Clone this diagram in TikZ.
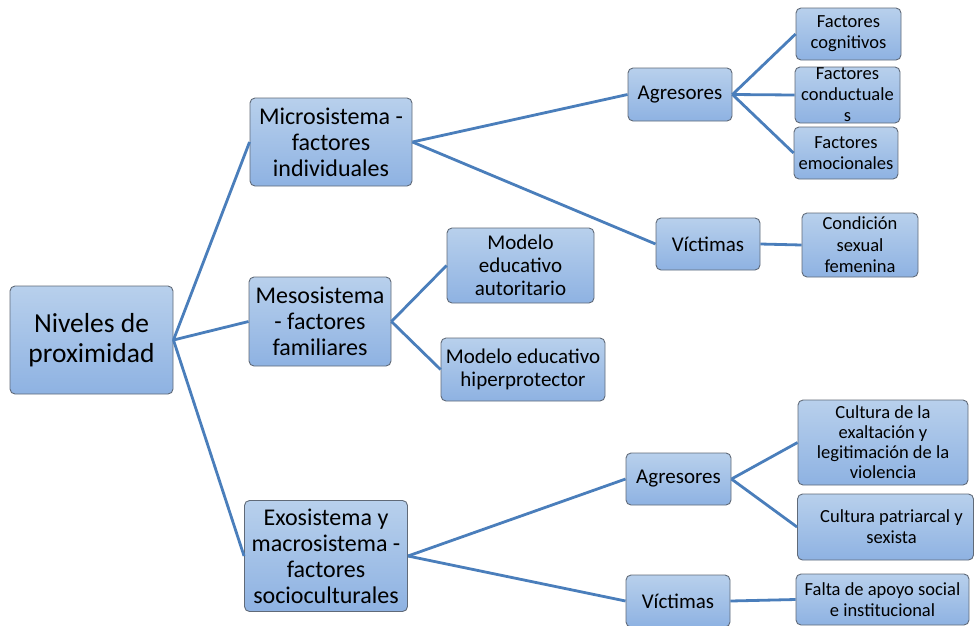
\documentclass[tikz,border=0pt]{standalone}
\usepackage{fontspec}
\setmainfont{Carlito}
\definecolor{boxtop}{RGB}{184,208,236}
\definecolor{boxbot}{RGB}{142,178,226}
\definecolor{boxline}{RGB}{96,106,120}
\definecolor{linkblue}{RGB}{74,126,187}
\begin{document}
\begin{tikzpicture}[x=1pt,y=-1pt,
  box/.style={draw=boxline, line width=0.9pt, rounded corners=5pt,
    top color=boxtop, bottom color=boxbot, align=center, inner sep=1pt},
  link/.style={draw=linkblue, line width=2.8pt},
  huge/.style={font=\fontsize{27.5}{30}\selectfont},
  big/.style={font=\fontsize{24}{26}\selectfont},
  mid/.style={font=\fontsize{21}{23}\selectfont},
  small/.style={font=\fontsize{18.5}{21}\selectfont}]

\useasboundingbox (0,0) rectangle (974,625);

% level 0 and 1
\node[box,huge,minimum width=163,minimum height=108] (root) at (91.5,340) {Niveles de\\proximidad};
\node[box,big,minimum width=162,minimum height=88] (micro) at (331,142) {Microsistema -\\factores\\individuales};
\node[box,big,minimum width=142,minimum height=89] (meso) at (320,321.5) {Mesosistema\\- factores\\familiares};
\node[box,big,minimum width=163,minimum height=111] (exo) at (326,556) {Exosistema y\\macrosistema -\\factores\\socioculturales};

% microsistema
\node[box,mid,minimum width=104,minimum height=53] (agrmicro) at (680,94.5) {Agresores};
\node[box,mid,minimum width=104,minimum height=52] (vicmicro) at (708,244) {Víctimas};
\node[box,small,minimum width=105,minimum height=52] (cog) at (848.5,34) {Factores\\cognitivos};
\node[box,small,minimum width=105,minimum height=52] (cond) at (847.5,95) {Factores\\conductuale\\s};
\node[box,small,minimum width=104,minimum height=52] (emo) at (846,153) {Factores\\emocionales};
\node[box,small,font=\fontsize{18.5}{21.5}\selectfont,minimum width=116,minimum height=64] (sexo) at (860,245) {Condición\\sexual\\femenina};

% mesosistema
\node[box,mid,minimum width=147,minimum height=75] (autor) at (520.5,265.5) {Modelo\\educativo\\autoritario};
\node[box,mid,minimum width=164,minimum height=63] (hiper) at (523,369.5) {Modelo educativo\\hiperprotector};

% exosistema y macrosistema
\node[box,mid,minimum width=105,minimum height=52] (agrexo) at (678.5,479) {Agresores};
\node[box,mid,minimum width=104,minimum height=52] (vicexo) at (678,601) {Víctimas};
\node[box,small,font=\fontsize{18.5}{20}\selectfont,minimum width=170,minimum height=85] (exalt) at (883,442.5) {Cultura de la\\exaltación y\\legitimación de la\\violencia};
\node[box,small,minimum width=176,minimum height=66] (patri) at (885.5,527) {\hspace*{12pt}Cultura patriarcal y\\\hspace*{12pt}sexista};
\node[box,small,minimum width=173,minimum height=51] (apoyo) at (882.5,599.5) {Falta de apoyo social\\e institucional};

\draw[link] (root.east) -- (micro.west);
\draw[link] (root.east) -- (meso.west);
\draw[link] (root.east) -- (exo.west);
\draw[link] (micro.east) -- (agrmicro.west);
\draw[link] (micro.east) -- (vicmicro.west);
\draw[link] (agrmicro.east) -- (cog.west);
\draw[link] (agrmicro.east) -- (cond.west);
\draw[link] (agrmicro.east) -- (emo.west);
\draw[link] (vicmicro.east) -- (sexo.west);
\draw[link] (meso.east) -- (autor.west);
\draw[link] (meso.east) -- (hiper.west);
\draw[link] (exo.east) -- (agrexo.west);
\draw[link] (exo.east) -- (vicexo.west);
\draw[link] (agrexo.east) -- (exalt.west);
\draw[link] (agrexo.east) -- (patri.west);
\draw[link] (vicexo.east) -- (apoyo.west);

\end{tikzpicture}
\end{document}
